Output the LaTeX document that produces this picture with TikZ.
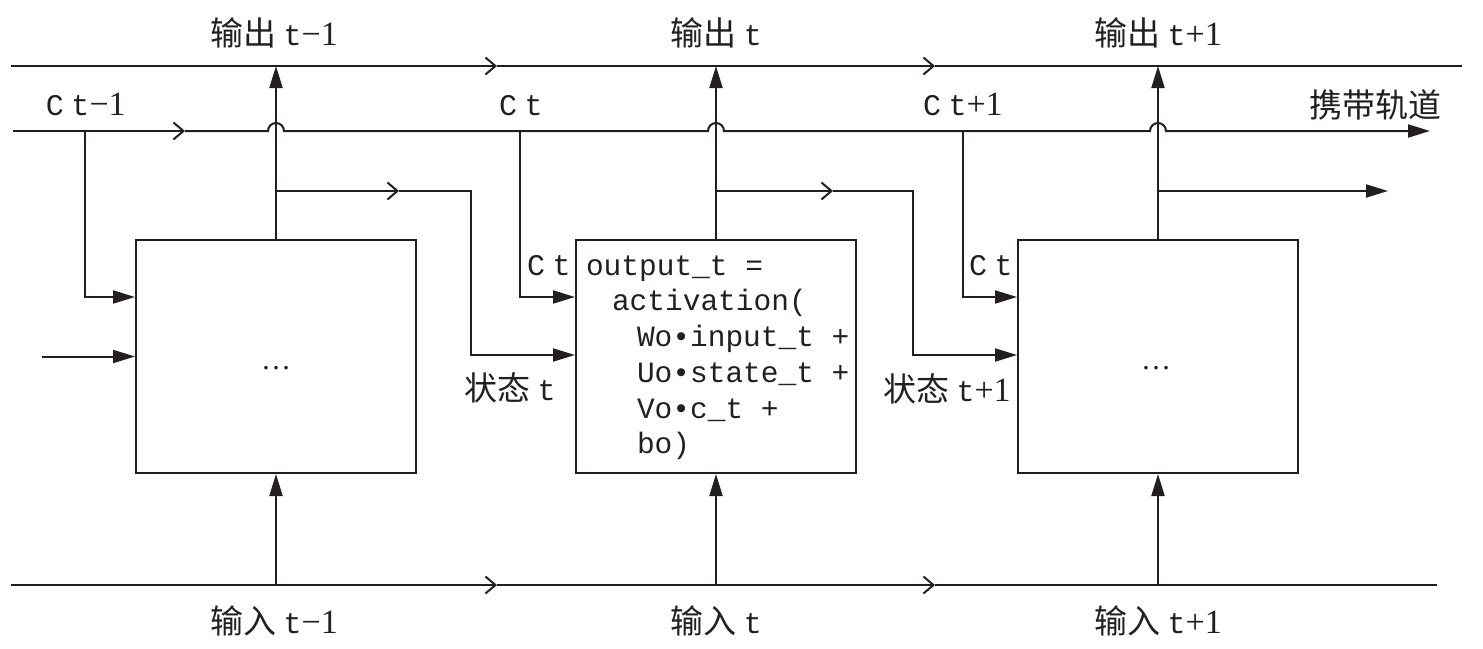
\documentclass[tikz,border=0pt]{standalone}
\usepackage{fontspec}
\setmainfont{Liberation Serif}
\setmonofont{Liberation Mono}
\newfontfamily\cjk{Noto Sans CJK SC}
\usetikzlibrary{arrows.meta}
\definecolor{ink}{RGB}{35,31,32}
\newcommand\zh[1]{{\fontsize{16.5}{18}\selectfont\cjk #1}}
\newcommand\mt[1]{{\ttfamily #1}}
\newcommand\nm[1]{{\fontsize{17}{18}\selectfont #1}}
\newcommand\Ct{\mt{C} \mt{t}}
\begin{document}
\begin{tikzpicture}[x=0.5pt,y=-0.5pt,
  line width=1pt, color=ink,
  cell/.style={draw, minimum width=140pt, minimum height=116.5pt, inner sep=0pt},
  fillarrow/.style={-{Triangle[length=11pt,width=6.5pt]}},
  openarrow/.style={-{Straight Barb[length=5pt,width=8.5pt,line width=1pt]}},
  lbl/.style={font=\fontsize{15}{18}\selectfont, inner sep=0pt, anchor=base},
  lblw/.style={lbl, anchor=base west},
  code/.style={font=\fontsize{14.75}{18}\selectfont\ttfamily, inner sep=0pt, anchor=base west},
]
\useasboundingbox (0,0) rectangle (1483,648);

% cells
\node[cell] (b1) at (276,356.5) {};
\node[cell] (b2) at (716,356.5) {};
\node[cell] (b3) at (1158,356.5) {};
\node[lbl] (d1) at (276,369) {\textellipsis};
\node[lbl] (d3) at (1156,369) {\textellipsis};

% code in middle cell
\node[code] (l1) at (585,275) {output\_t =};
\node[code] (l2) at (611,310.5) {activation(};
\node[code] (l3) at (636,346) {Wo•input\_t +};
\node[code] (l4) at (636,382) {Uo•state\_t +};
\node[code] (l5) at (636,418) {Vo•c\_t +};
\node[code] (l6) at (636,453) {bo)};

% coordinates
\coordinate (tL) at (11,66);
\coordinate (tA) at (497,66);
\coordinate (tB) at (935,66);
\coordinate (tR) at (1462,66);
\coordinate (bL) at (11,585);
\coordinate (bA) at (497,585);
\coordinate (bB) at (935,585);
\coordinate (bR) at (1437,585);
\coordinate (cL) at (13,131);
\coordinate (cA) at (185,131);
\coordinate (cR) at (1430,131);

% top output track
\draw[openarrow] (tL) -- (tA);
\draw[openarrow] (tA) -- (tB);
\draw (tB) -- (tR);

% bottom input track
\draw[openarrow] (bL) -- (bA);
\draw[openarrow] (bA) -- (bB);
\draw (bB) -- (bR);

% carry track with humps
\draw[openarrow] (cL) -- (cA);
\draw[fillarrow] (cA) -- (268,131) arc[start angle=180,end angle=0,radius=4pt]
  -- (708,131) arc[start angle=180,end angle=0,radius=4pt]
  -- (1150,131) arc[start angle=180,end angle=0,radius=4pt] -- (cR);

% outputs up
\draw[fillarrow] (b1.north) -- (b1.north |- tL);
\draw[fillarrow] (b2.north) -- (b2.north |- tL);
\draw[fillarrow] (b3.north) -- (b3.north |- tL);

% inputs up
\draw[fillarrow] (b1.south |- bL) -- (b1.south);
\draw[fillarrow] (b2.south |- bL) -- (b2.south);
\draw[fillarrow] (b3.south |- bL) -- (b3.south);

% carry taps
\coordinate (k1) at (85,297);
\coordinate (k2) at (520,297);
\coordinate (k3) at (963,297);
\draw[fillarrow] (k1 |- cL) -- (k1) -- (b1.west |- k1);
\draw[fillarrow] (k2 |- cL) -- (k2) -- (b2.west |- k2);
\draw[fillarrow] (k3 |- cL) -- (k3) -- (b3.west |- k3);

% state branches
\coordinate (o1) at (276,191);
\coordinate (m1) at (399,191);
\coordinate (h1) at (471,191);
\coordinate (g1) at (471,355);
\draw[openarrow] (o1) -- (m1);
\draw[fillarrow] (m1) -- (h1) -- (g1) -- (b2.west |- g1);
\coordinate (o2) at (716,191);
\coordinate (m2) at (833,191);
\coordinate (h2) at (913,191);
\coordinate (g2) at (913,355);
\draw[openarrow] (o2) -- (m2);
\draw[fillarrow] (m2) -- (h2) -- (g2) -- (b3.west |- g2);
\coordinate (o3) at (1158,191);
\coordinate (e3) at (1388,191);
\draw[fillarrow] (o3) -- (e3);

% left input
\coordinate (in0) at (42,356.5);
\draw[fillarrow] (in0) -- (b1.west);

% labels
\node[lbl] (ot1) at (274,46) {\zh{输出} \mt{t}\nm{−1}};
\node[lbl] (ot2) at (716,46) {\zh{输出} \mt{t}};
\node[lbl] (ot3) at (1158,46) {\zh{输出} \mt{t}\nm{+1}};
\node[lbl] (it1) at (274,633) {\zh{输入} \mt{t}\nm{−1}};
\node[lbl] (it2) at (716,633) {\zh{输入} \mt{t}};
\node[lbl] (it3) at (1158,633) {\zh{输入} \mt{t}\nm{+1}};
\node[lblw] (ct1) at (45,115) {\Ct\nm{−1}};
\node[lblw] (ct2) at (498,115) {\Ct};
\node[lblw] (ct3) at (922,115) {\Ct\nm{+1}};
\node[lblw] (trk) at (1308,117) {\zh{携带轨道}};
\node[lblw] (ci2) at (526,275) {\Ct};
\node[lblw] (ci3) at (968,275) {\Ct};
\node[lblw] (st2) at (463,400) {\zh{状态} \mt{t}};
\node[lblw] (st3) at (882,401) {\zh{状态} \mt{t}\nm{+1}};
\end{tikzpicture}
\end{document}
